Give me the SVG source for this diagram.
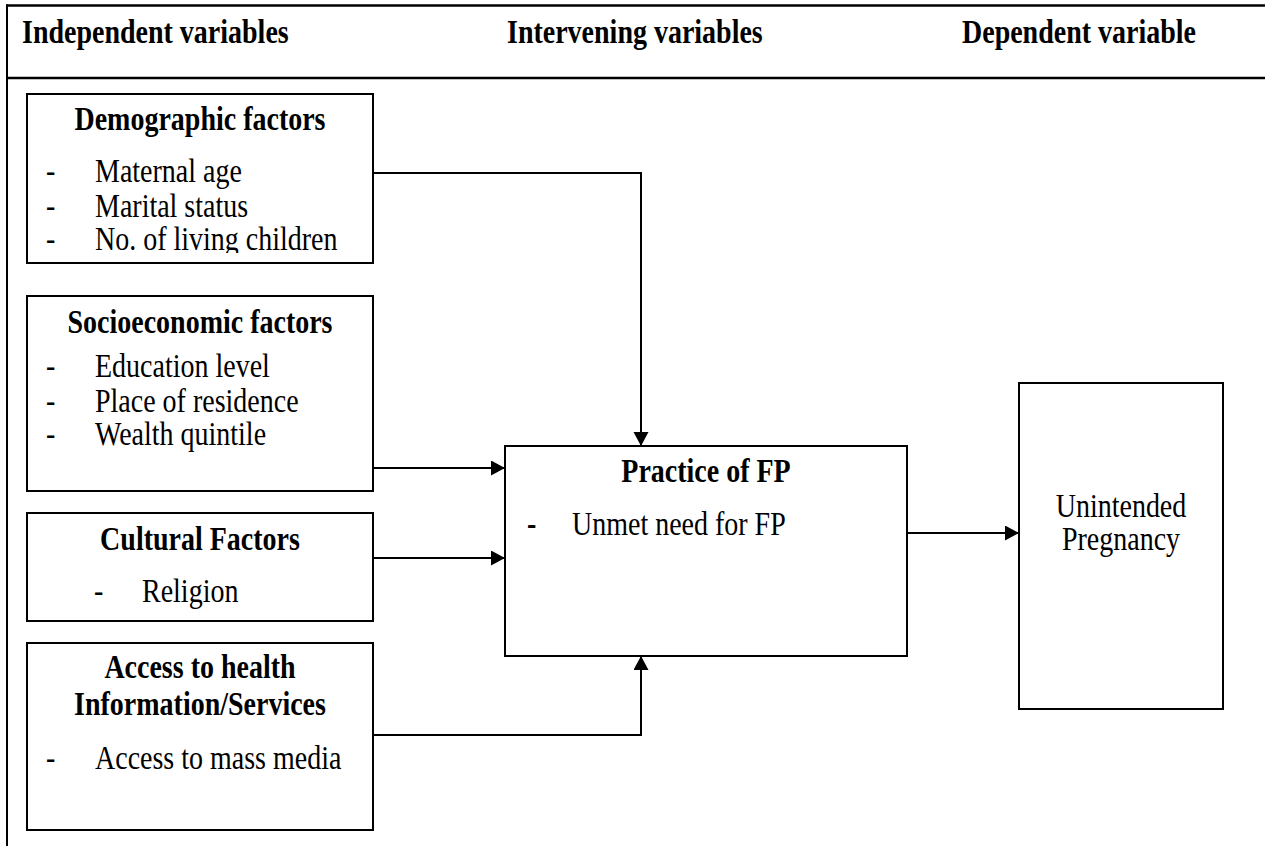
<svg xmlns="http://www.w3.org/2000/svg" width="1265" height="846" viewBox="0 0 1265 846">
<style>
.t{font-family:"Liberation Serif","Times New Roman",serif;font-size:28px;fill:#000}
.b{font-weight:bold}
.m{text-anchor:middle}
.box{fill:#fff;stroke:#000;stroke-width:2}
.frame{fill:none;stroke:#000;stroke-width:2.5}
.conn{fill:none;stroke:#000;stroke-width:2}
</style>
<defs>
<marker id="arr" markerUnits="userSpaceOnUse" markerWidth="15" markerHeight="16" refX="14" refY="7.5" orient="auto">
<path d="M0,0 L14,7.5 L0,15 Z" fill="#000"/>
</marker>
<clipPath id="clipDemo"><rect x="27" y="94" width="346" height="159"/></clipPath>
</defs>
<rect width="1265" height="846" fill="#fff"/>
<g id="frame">
<line class="frame" x1="6" y1="5.5" x2="1265" y2="5.5"/>
<line class="frame" x1="6" y1="78" x2="1265" y2="78"/>
<line class="frame" x1="7" y1="4.5" x2="7" y2="846" style="stroke-width:2"/>
<text class="t b" transform="matrix(1 0 0 1.18 22 43)">Independent variables</text>
<text class="t b" transform="matrix(1 0 0 1.18 507 43)">Intervening variables</text>
<text class="t b" transform="matrix(1 0 0 1.18 962 43)">Dependent variable</text>
</g>
<g id="connectors">
<path class="conn" d="M373,173 H641 V446" marker-end="url(#arr)"/>
<path class="conn" d="M373,468 H505" marker-end="url(#arr)"/>
<path class="conn" d="M373,558 H505" marker-end="url(#arr)"/>
<path class="conn" d="M373,735 H641 V656" marker-end="url(#arr)"/>
<path class="conn" d="M907,533 H1019" marker-end="url(#arr)"/>
</g>
<g id="demographic">
<rect class="box" x="27" y="94" width="346" height="169"/>
<text class="t b m" transform="matrix(1 0 0 1.18 200 130)">Demographic factors</text>
<g clip-path="url(#clipDemo)">
<text class="t" transform="matrix(1 0 0 1.18 46 182)">-</text>
<text class="t" transform="matrix(1 0 0 1.18 95 182)">Maternal age</text>
<text class="t" transform="matrix(1 0 0 1.18 46 217)">-</text>
<text class="t" transform="matrix(1 0 0 1.18 95 217)">Marital status</text>
<text class="t" transform="matrix(1 0 0 1.18 46 250)">-</text>
<text class="t" transform="matrix(1 0 0 1.18 95 250)">No. of living children</text>
</g>
</g>
<g id="socioeconomic">
<rect class="box" x="27" y="296" width="346" height="195"/>
<text class="t b m" transform="matrix(1 0 0 1.18 200 333)">Socioeconomic factors</text>
<text class="t" transform="matrix(1 0 0 1.18 46 377)">-</text>
<text class="t" transform="matrix(1 0 0 1.18 95 377)">Education level</text>
<text class="t" transform="matrix(1 0 0 1.18 46 412)">-</text>
<text class="t" transform="matrix(1 0 0 1.18 95 412)">Place of residence</text>
<text class="t" transform="matrix(1 0 0 1.18 46 445)">-</text>
<text class="t" transform="matrix(1 0 0 1.18 95 445)">Wealth quintile</text>
</g>
<g id="cultural">
<rect class="box" x="27" y="513" width="346" height="108"/>
<text class="t b m" transform="matrix(1 0 0 1.18 200 550)">Cultural Factors</text>
<text class="t" transform="matrix(1 0 0 1.18 94 602)">-</text>
<text class="t" transform="matrix(1 0 0 1.18 142 602)">Religion</text>
</g>
<g id="access">
<rect class="box" x="27" y="643" width="346" height="187"/>
<text class="t b m" transform="matrix(1 0 0 1.18 200 678)">Access to health</text>
<text class="t b m" transform="matrix(1 0 0 1.18 200 715)">Information/Services</text>
<text class="t" transform="matrix(1 0 0 1.18 46 769)">-</text>
<text class="t" transform="matrix(1 0 0 1.18 95 769)">Access to mass media</text>
</g>
<g id="practice">
<rect class="box" x="505" y="446" width="402" height="210"/>
<text class="t b m" transform="matrix(1 0 0 1.18 706 482)">Practice of FP</text>
<text class="t b" transform="matrix(1 0 0 1.18 527 535)">-</text>
<text class="t" transform="matrix(1 0 0 1.18 572 535)">Unmet need for FP</text>
</g>
<g id="unintended">
<rect class="box" x="1019" y="383" width="204" height="326"/>
<text class="t m" transform="matrix(1 0 0 1.18 1121 517)">Unintended</text>
<text class="t m" transform="matrix(1 0 0 1.18 1121 550)">Pregnancy</text>
</g>
</svg>
